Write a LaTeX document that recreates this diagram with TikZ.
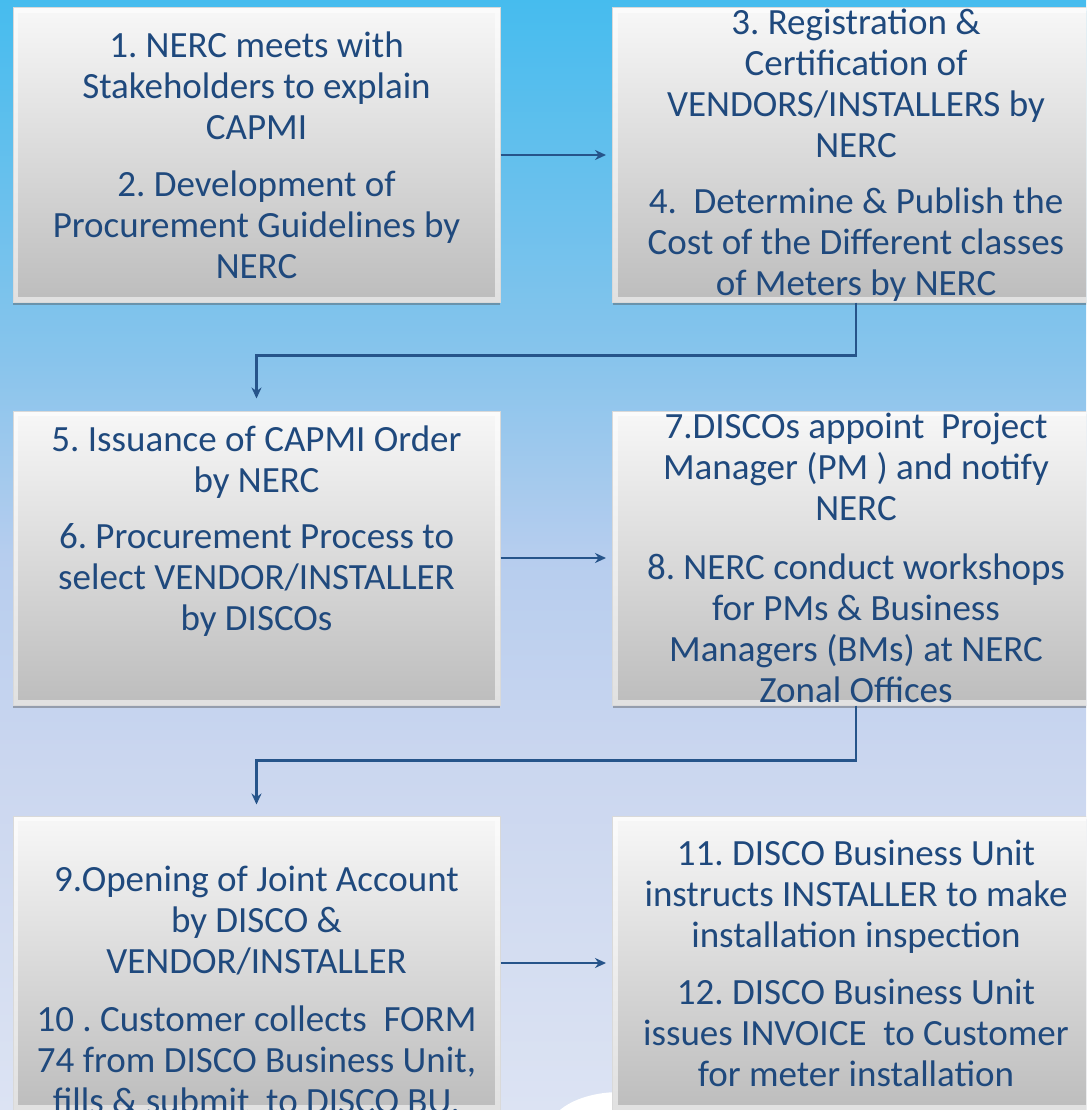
\documentclass[tikz,border=0pt]{standalone}
\usepackage{fontspec}
\setmainfont{Carlito}
\frenchspacing
\usepackage{tikz}
\usetikzlibrary{arrows.meta,shadows}
\definecolor{navytext}{RGB}{31,73,125}
\definecolor{linkblue}{RGB}{38,84,138}
\definecolor{skytop}{RGB}{70,188,238}
\definecolor{skyupper}{RGB}{135,196,236}
\definecolor{skymid}{RGB}{182,205,238}
\definecolor{skylow}{RGB}{202,214,239}
\definecolor{skybottom}{RGB}{220,227,243}
\pgfdeclareverticalshading{skyfade}{100bp}{color(0bp)=(skybottom); color(25bp)=(skybottom);
  color(41bp)=(skylow); color(50bp)=(skymid); color(59bp)=(skyupper); color(75bp)=(skytop); color(100bp)=(skytop)}
\tikzset{>=Stealth}
\tikzset{
  procbox/.style={
    minimum width=487pt, minimum height=294pt, inner sep=0pt,
    top color=white!97!black, bottom color=black!26,
    draw=white!85!black, line width=1pt,
    drop shadow={shadow xshift=0pt, shadow yshift=-3pt, opacity=.4, fill=black!70},
    path picture={
      \draw[white,opacity=.55,line width=10pt]
        (path picture bounding box.south west) rectangle (path picture bounding box.north east);
   }}}
\tikzset{
  boxtext/.style={align=center, text=navytext, inner sep=0pt,
    font=\fontsize{37}{41}\selectfont}}
\tikzset{
  flow/.style={-{Stealth[length=11pt,width=10pt]}, draw=linkblue, line width=2.6pt}}

\begin{document}
\begin{tikzpicture}[x=1pt,y=-1pt]
    \useasboundingbox (0,0) rectangle (1086,1110);
    \clip (0,0) rectangle (1086,1110);
    \shade[shading=skyfade] (0,0) rectangle (1086,1110);
    \fill[white] (620,1132) ellipse (72 and 40);
    % boxes
    \node[procbox] (b1) at (256.5,155) {};
    \node[procbox] (b3) at (856,155) {};
    \node[procbox] (b5) at (256.5,558) {};
    \node[procbox] (b7) at (856,558) {};
    \node[procbox] (b9) at (256.5,963) {};
    \node[procbox] (b11) at (856,963) {};
    % texts
    \node[boxtext] (t1) at (b1) {1. NERC meets with\\ Stakeholders to explain\\ CAPMI\\[16pt]
        2. Development of\\ Procurement Guidelines by\\ NERC};
    \node[boxtext] (t3) at (b3) {3. Registration \&\\ Certification of\\ VENDORS/INSTALLERS by\\ NERC\\[15pt]
        4.~ Determine \& Publish the\\ Cost of the Different classes\\ of Meters by NERC};
    \node[boxtext,yshift=27pt] (t5) at (b5) {5. Issuance of CAPMI Order\\ by NERC\\[15pt]
        6. Procurement Process to\\ select VENDOR/INSTALLER\\ by DISCOs};
    \node[boxtext] (t7) at (b7) {7.DISCOs appoint~ Project\\ Manager (PM~) and notify\\ NERC\\[18pt]
        8. NERC conduct workshops\\ for PMs \& Business\\ Managers (BMs) at NERC\\ Zonal Offices};
    \node[boxtext,yshift=-27pt] (t9) at (b9) {9.Opening of Joint Account\\ by DISCO \&\\ VENDOR/INSTALLER\\[17pt]
        10 . Customer collects~ FORM\\ 74 from DISCO Business Unit,\\ fills \& submit~ to DISCO BU.};
    \node[boxtext] (t11) at (b11) {11. DISCO Business Unit\\ instructs INSTALLER to make\\ installation inspection\\[16pt]
        12. DISCO Business Unit\\ issues INVOICE~ to Customer\\ for meter installation};
    % arrows
    \draw[flow,shorten >=6pt] (b1) -- (b3);
    \draw[flow,shorten >=12pt] (b3.south) -- ++(0,53) -| (b5.north);
    \draw[flow,shorten >=6pt] (b5) -- (b7);
    \draw[flow,shorten >=11pt] (b7.south) -- ++(0,55) -| (b9.north);
    \draw[flow,shorten >=6pt] (b9) -- (b11);
\end{tikzpicture}
\end{document}
